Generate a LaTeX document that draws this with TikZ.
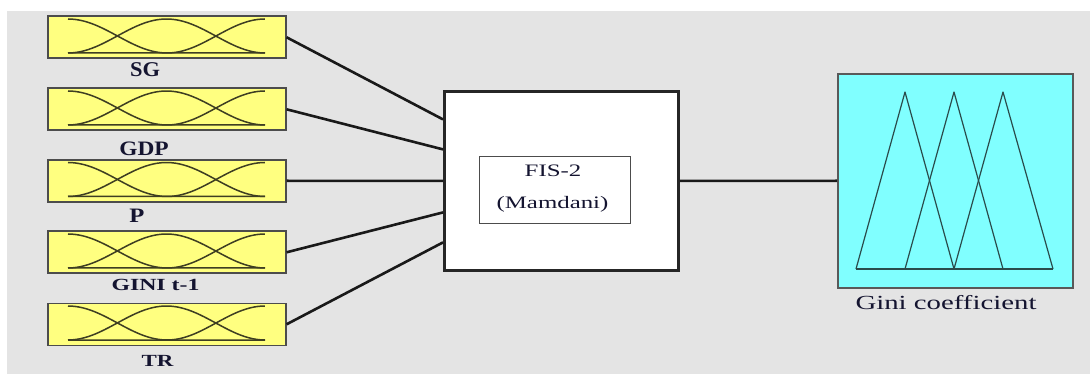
\documentclass[tikz,border=0pt]{standalone}
\usepackage{fontspec}
\setmainfont{Liberation Serif}
\usetikzlibrary{calc}
\definecolor{bg}{HTML}{E4E4E4}
\definecolor{yel}{HTML}{FFFF80}
\definecolor{cyn}{HTML}{80FFFF}
\definecolor{curv}{HTML}{3E3E22}
\definecolor{tri}{HTML}{2A4C4C}
\definecolor{txt}{HTML}{141430}
\begin{document}
\begin{tikzpicture}[x=1pt,y=-1pt,
  mfbox/.style={draw=black!70, line width=1.6pt, fill=yel, minimum width=238pt, minimum height=42pt, inner sep=0pt, anchor=north west},
  lbl/.style={text=txt, inner sep=0pt},
  conn/.style={line width=2.6pt, black!90},
  mf/.style={curv, line width=1.5pt},
  trim/.style={tri, line width=1.2pt, line join=round}]
\useasboundingbox (0,0) rectangle (1090,374);
\fill[white] (0,0) rectangle (1090,374);
\fill[bg] (7,11) rectangle (1090,374);
% input membership boxes
\foreach \n/\t in {in1/15.5, in2/87.5, in3/159, in4/230.5, in5/302.5}{
  \node[mfbox] (\n) at (47,\t) {};
  \pgfmathsetmacro{\yt}{\t+3.5}
  \pgfmathsetmacro{\yb}{\t+37.5}
  \pgfmathsetmacro{\hh}{\yb-\yt}
  \draw[mf] plot[domain=0:1, samples=30, variable=\s] ({68+99*\s},{\yb-\hh*0.5*(1+cos(180*\s))}) -- (265,\yb);
  \draw[mf] plot[domain=0:2, samples=50, variable=\s] ({68+98.5*\s},{\yb-\hh*0.5*(1-cos(180*\s))});
  \draw[mf] (68,\yb) -- (167,\yb) plot[domain=0:1, samples=30, variable=\s] ({167+98*\s},{\yb-\hh*0.5*(1-cos(180*\s))});
}
% input labels
\node[lbl, font=\bfseries\fontsize{21}{21}\selectfont] (lsg) at (145,70) {\scalebox{1.07}[1]{SG}};
\node[lbl, font=\bfseries\fontsize{20.5}{20.5}\selectfont] (lgdp) at (144,149) {\scalebox{1.14}[1]{GDP}};
\node[lbl, font=\bfseries\fontsize{20.5}{20.5}\selectfont] (lp) at (137,216) {\scalebox{1.2}[1]{P}};
\node[lbl, font=\bfseries\fontsize{17}{17}\selectfont] (lgini) at (155.5,285) {\scalebox{1.4}[1]{GINI t-1}};
\node[lbl, font=\bfseries\fontsize{17}{17}\selectfont] (ltr) at (157.5,360.5) {\scalebox{1.35}[1]{TR}};
% FIS box
\node[draw=black!85, line width=2.8pt, fill=white, minimum width=234pt, minimum height=179pt, inner sep=0pt, anchor=north west] (fis) at (443,90) {};
\node[draw=black!70, line width=1.3pt, fill=white, minimum width=151pt, minimum height=67pt, inner sep=0pt, anchor=north west] (inner) at (479,156) {};
\node[lbl, font=\fontsize{17.5}{17.5}\selectfont] (tfis) at (553,171) {\scalebox{1.42}[1]{FIS-2}};
\node[lbl, font=\fontsize{17.5}{17.5}\selectfont] (tmam) at (552.5,204.5) {\scalebox{1.42}[1]{(Mamdani)}};
% output box
\node[draw=black!65, line width=1.6pt, fill=cyn, minimum width=235pt, minimum height=214pt, inner sep=0pt, anchor=north west] (out) at (837,73) {};
\draw[trim] (856,269) -- (905,92) -- (954,269);
\draw[trim] (905,269) -- (954,92) -- (1003,269);
\draw[trim] (954,269) -- (1003,92) -- (1053,269);
\draw[trim] (856,269) -- (1053,269);
\node[lbl, font=\fontsize{20}{20}\selectfont] (tout) at (946,303) {\scalebox{1.44}[1]{Gini coefficient}};
% connectors
\draw[conn] (in1.east) -- ([yshift=61.5pt]fis.west);
\draw[conn] (in2.east) -- ([yshift=31.5pt]fis.west);
\draw[conn] (in3.east) -- (fis.west);
\draw[conn] (in4.east) -- ([yshift=-31.5pt]fis.west);
\draw[conn] (in5.east) -- ([yshift=-61.5pt]fis.west);
\draw[conn] (fis.east) -- (out.west);
\end{tikzpicture}
\end{document}
